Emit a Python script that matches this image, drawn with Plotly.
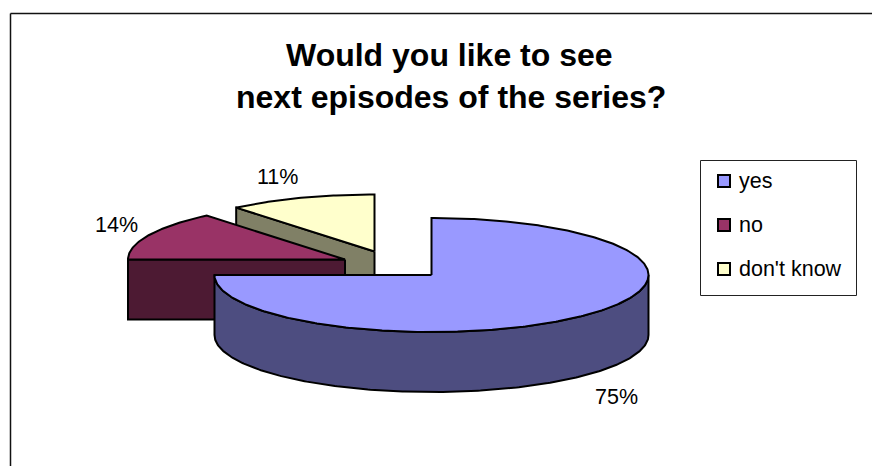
import numpy as np
import plotly.graph_objects as go

# Survey results
categories = ["yes", "no", "don't know"]
shares = [75, 14, 11]
top_colors = ["#9999FF", "#993366", "#FFFFCC"]
side_colors = ["#4D4D80", "#4D1A33", "#808066"]

# Apex of each wedge on the canvas; the smaller wedges are pulled out of the pie
apex_x = [431.5, 345, 374.5]
apex_y = [275, 259.5, 251.5]

RX, RY, DEPTH = 217, 57, 60
W, H = 872, 466
EDGE = dict(color="black", width=2)


def rim(cx, cy, a0, a1, drop=0):
    """Ellipse arc, angles in degrees clockwise from twelve o'clock."""
    t = np.radians(np.linspace(a0, a1, max(2, int(abs(a1 - a0) * 1.5))))
    return cx + RX * np.sin(t), cy - RY * np.cos(t) + drop


def poly(fig, x, y, color):
    fig.add_trace(go.Scatter(
        x=np.r_[x, x[0]], y=np.r_[y, y[0]], mode="lines", fill="toself",
        fillcolor=color, line=EDGE, hoverinfo="skip", showlegend=False,
    ))


def draw_wedge(fig, i, start, end):
    cx, cy = apex_x[i], apex_y[i]
    # radial cut face, only visible for wedges opening on the rear left
    if 180 < start < 360:
        ex, ey = rim(cx, cy, start, start)
        poly(fig, [cx, ex[0], ex[0], cx], [cy, ey[0], ey[0] + DEPTH, cy + DEPTH], side_colors[i])
    # outer wall on the near half of the ellipse
    lo, hi = max(start, 90), min(end, 270)
    if lo < hi:
        wx, wy = rim(cx, cy, lo, hi)
        bx, by = rim(cx, cy, hi, lo, DEPTH)
        poly(fig, np.r_[wx, bx], np.r_[wy, by], side_colors[i])
    # top face
    tx, ty = rim(cx, cy, start, end)
    poly(fig, np.r_[cx, tx], np.r_[cy, ty], top_colors[i])


fig = go.Figure()

bounds = np.cumsum([0] + shares) * 3.6
# Painted back to front: don't know, no, yes
for i in (2, 1, 0):
    draw_wedge(fig, i, bounds[i], bounds[i + 1])

# Legend swatches
legend_y = [181, 225, 269]
for name, color, y in zip(categories, top_colors, legend_y):
    fig.add_trace(go.Scatter(
        x=[724], y=[y], mode="markers", hoverinfo="skip", showlegend=False,
        marker=dict(symbol="square", size=12, color=color, line=dict(color="black", width=2)),
    ))

FONT = "Liberation Sans, Arial, sans-serif"


def label(x, y, text, size=21.5, bold=False, anchor="center"):
    fig.add_annotation(
        x=x, y=y, text=f"<b>{text}</b>" if bold else text, showarrow=False,
        xanchor=anchor, yanchor="middle",
        font=dict(family=FONT, size=size, color="black"),
    )


label(449, 55, "Would you like to see", size=32, bold=True)
label(451, 97, "next episodes of the series?", size=32, bold=True)

label(616, 397, f"{shares[0]}%")
label(116, 225, f"{shares[1]}%")
label(277, 177, f"{shares[2]}%")

for name, y in zip(categories, legend_y):
    label(737, y, name, anchor="left")

fig.update_layout(
    width=W, height=H, margin=dict(l=0, r=0, t=0, b=0),
    paper_bgcolor="white", plot_bgcolor="white", showlegend=False,
    xaxis=dict(range=[0, W], visible=False, fixedrange=True),
    yaxis=dict(range=[H, 0], visible=False, fixedrange=True),
    shapes=[
        # chart frame, open at the bottom and right where the page cuts it off
        dict(type="line", x0=10.5, x1=10.5, y0=13.5, y1=H, line=dict(color="#111111", width=1.5)),
        dict(type="line", x0=10.5, x1=W, y0=13.5, y1=13.5, line=dict(color="#111111", width=1.5)),
        # legend box
        dict(type="rect", x0=700.5, x1=856.5, y0=160.5, y1=295.5, line=dict(color="#222222", width=1)),
    ],
)

fig.write_html("out.html", config={"displayModeBar": False})
